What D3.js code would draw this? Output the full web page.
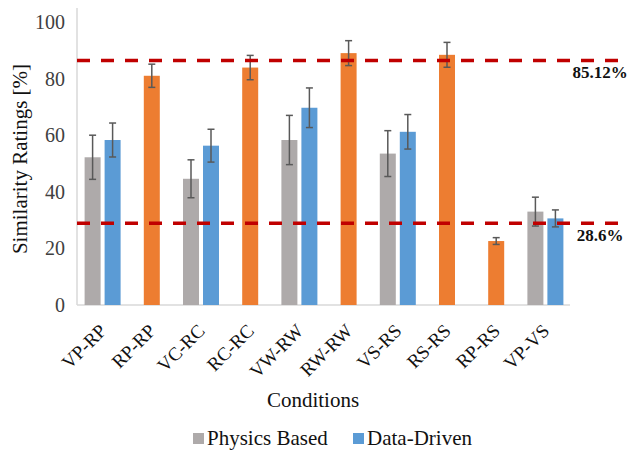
<!DOCTYPE html>
<html>
<head>
<meta charset="utf-8">
<script src="https://cdn.jsdelivr.net/npm/d3@7"></script>
<style>
  body { margin: 0; background: #fff; }
</style>
</head>
<body>
<div id="chart"></div>
<script>
// data
const categories = ["VP-RP", "RP-RP", "VC-RC", "RC-RC", "VW-RW", "RW-RW", "VS-RS", "RS-RS", "RP-RS", "VP-VS"];
const physics     = [52.2, null, 44.6, null, 58.3, null, 53.5, null, null, 33.0];
const physicsErr  = [7.8, null, 6.7, null, 8.7, null, 8.1, null, null, 5.1];
const dataDriven  = [58.3, null, 56.3, null, 69.7, null, 61.2, null, null, 30.6];
const dataErr     = [6.0, null, 5.8, null, 7.0, null, 6.1, null, null, 3.0];
const realReal    = [null, 81.0, null, 83.9, null, 89.0, null, 88.4, 22.6, null];
const realErr     = [null, 4.1, null, 4.3, null, 4.4, null, 4.4, 1.2, null];
const refValues   = [86.4, 28.9];
const refLabels   = ["85.12%", "28.6%"];
const yTicks      = [0, 20, 40, 60, 80, 100];

const width = 629, height = 450;
const margin = {top: 22, left: 78, right: 59, bottom: 145};
const FONT = "'Liberation Serif'";

const svg = d3.select("#chart").append("svg")
    .attr("width", width)
    .attr("height", height);

const x = d3.scaleBand()
    .domain(categories)
    .range([margin.left, width - margin.right]);

const y = d3.scaleLinear()
    .domain([0, 100])
    .range([height - margin.bottom, margin.top]);

const barW = 16, gap = 2;

// flatten to bar records
let bars = [];
categories.forEach((c, i) => {
    let cx = x(c) + x.bandwidth() / 2;
    if (physics[i] != null) bars.push({cx: cx - gap - barW / 2, v: physics[i], e: physicsErr[i], color: "#aeaaaa"});
    if (dataDriven[i] != null) bars.push({cx: cx + gap + barW / 2, v: dataDriven[i], e: dataErr[i], color: "#5b9bd5"});
    if (realReal[i] != null) bars.push({cx: cx, v: realReal[i], e: realErr[i], color: "#ed7d31"});
});

// axes lines
svg.append("line")
    .attr("x1", x.range()[0] - 1).attr("x2", x.range()[0] - 1)
    .attr("y1", 8).attr("y2", y(0))
    .attr("stroke", "#d9d9d9").attr("stroke-width", 1.5);

svg.append("line")
    .attr("x1", x.range()[0] - 1).attr("x2", x.range()[1])
    .attr("y1", y(0)).attr("y2", y(0))
    .attr("stroke", "#d9d9d9").attr("stroke-width", 1.5);

// y tick labels
svg.append("g").selectAll("text")
    .data(yTicks)
    .enter().append("text")
    .attr("font-family", FONT)
    .attr("x", 65)
    .attr("y", d => y(d))
    .attr("dy", "0.35em")
    .attr("text-anchor", "end")
    .attr("font-size", 20)
    .attr("fill", "#404040")
    .text(d => d);

// bars
svg.append("g").selectAll("rect")
    .data(bars)
    .enter().append("rect")
    .attr("x", d => d.cx - barW / 2)
    .attr("y", d => y(d.v))
    .attr("width", barW)
    .attr("height", d => y(0) - y(d.v))
    .attr("fill", d => d.color);

// error bars
let eb = svg.append("g")
    .attr("stroke", "#595959")
    .attr("stroke-width", 1.5);

eb.selectAll(".stem")
    .data(bars)
    .enter().append("line")
    .attr("x1", d => d.cx).attr("x2", d => d.cx)
    .attr("y1", d => y(d.v + d.e)).attr("y2", d => y(d.v - d.e));

eb.selectAll(".capTop")
    .data(bars)
    .enter().append("line")
    .attr("x1", d => d.cx - 3.5).attr("x2", d => d.cx + 3.5)
    .attr("y1", d => y(d.v + d.e)).attr("y2", d => y(d.v + d.e));

eb.selectAll(".capBot")
    .data(bars)
    .enter().append("line")
    .attr("x1", d => d.cx - 3.5).attr("x2", d => d.cx + 3.5)
    .attr("y1", d => y(d.v - d.e)).attr("y2", d => y(d.v - d.e));

// reference lines
svg.append("g").selectAll("line")
    .data(refValues)
    .enter().append("line")
    .attr("x1", x.range()[0] - 1).attr("x2", 618)
    .attr("y1", d => y(d)).attr("y2", d => y(d))
    .attr("stroke", "#c00000")
    .attr("stroke-width", 3.5)
    .attr("stroke-dasharray", "13,11");

svg.append("g").selectAll("text")
    .data(refValues)
    .enter().append("text")
    .attr("font-family", FONT)
    .attr("x", 600)
    .attr("y", d => y(d) + 18)
    .attr("text-anchor", "middle")
    .attr("font-size", 17)
    .attr("font-weight", "bold")
    .attr("fill", "#111")
    .text((d, i) => refLabels[i]);

// x labels
svg.append("g").selectAll("text")
    .data(categories)
    .enter().append("text")
    .attr("font-family", FONT)
    .attr("text-anchor", "end")
    .attr("font-size", 19)
    .attr("fill", "#111")
    .attr("transform", d => "translate(" + (x(d) + x.bandwidth() / 2 + 5) + "," + 332 + ") rotate(-45)")
    .text(d => d);

// axis titles
svg.append("text")
    .attr("font-family", FONT)
    .attr("transform", "translate(27," + 159 + ") rotate(-90)")
    .attr("text-anchor", "middle")
    .attr("font-size", 21)
    .attr("fill", "#111")
    .text("Similarity Ratings [%]");

svg.append("text")
    .attr("font-family", FONT)
    .attr("x", 313)
    .attr("y", 407)
    .attr("text-anchor", "middle")
    .attr("font-size", 21)
    .attr("fill", "#111")
    .text("Conditions");

// legend
const legend = [{name: "Physics Based", color: "#aeaaaa", x: 193}, {name: "Data-Driven", color: "#5b9bd5", x: 353}];
let lg = svg.append("g").selectAll("g")
    .data(legend)
    .enter().append("g")
    .attr("transform", d => "translate(" + d.x + ",433)");

lg.append("rect")
    .attr("width", 11).attr("height", 11)
    .attr("fill", d => d.color);

lg.append("text")
    .attr("font-family", FONT)
    .attr("x", 14)
    .attr("y", 12)
    .attr("font-size", 21)
    .attr("fill", "#111")
    .text(d => d.name);
</script>
</body>
</html>
